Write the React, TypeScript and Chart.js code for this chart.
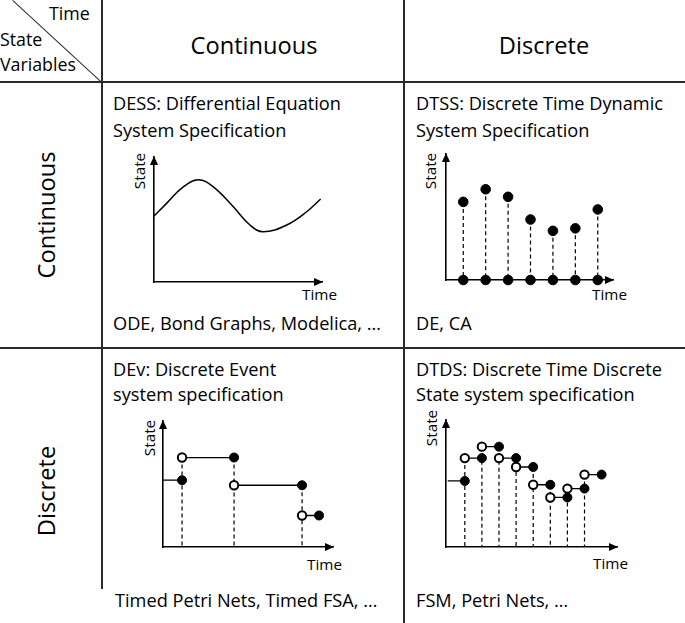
import React, { useEffect, useRef } from "react";
import { Chart, registerables } from "chart.js";
Chart.register(...registerables);

// ---------- DATA ----------
// DESS: continuous trajectory (time, state)
const dessTime = [0, 0.75, 1.74, 2.64, 3.53, 4.72, 5.71, 6.51, 7.9, 9.09, 9.92];
const dessState = [5.28, 6.29, 7.61, 8.18, 7.61, 6.02, 4.56, 4.02, 4.56, 5.62, 6.64];

// DTSS: sampled states at discrete time steps
const dtssTime = [1, 2, 3, 4, 5, 6, 7];
const dtssState = [6.2, 7.2, 6.6, 4.8, 3.9, 4.1, 5.6];

// DEv: event times and piecewise-constant state levels
const devEventTimes = [1.12, 4.18, 8.18];
const devLevels = [5.3, 7.1, 4.9, 2.5];
const devEndTime = 9.18;

// DTDS: discrete time steps with discrete state levels
const dtdsEventTimes = [1, 2, 3, 4, 5, 6, 7, 8];
const dtdsLevels = [5.2, 7.0, 7.9, 7.0, 6.3, 4.9, 3.9, 4.6, 5.7];
const dtdsEndTime = 9;

// Text
const colHeaders = ["Continuous", "Discrete"];
const rowHeaders = ["Continuous", "Discrete"];
const cornerTime = "Time";
const cornerState = ["State", "Variables"];
const cellTitles = [
  ["DESS: Differential Equation", "System Specification"],
  ["DTSS: Discrete Time Dynamic", "System Specification"],
  ["DEv: Discrete Event", "system specification"],
  ["DTDS: Discrete Time Discrete", "State system specification"],
];
const cellExamples = [
  "ODE, Bond Graphs, Modelica, …",
  "DE, CA",
  "Timed Petri Nets, Timed FSA, …",
  "FSM, Petri Nets, …",
];
const axisX = "Time";
const axisY = "State";

// ---------- HELPERS ----------
const FONT = "'Open Sans', 'Noto Sans', sans-serif";
const INK = "#000";

let measureCtx: CanvasRenderingContext2D | null = null;
function fitSize(text: string, target: number) {
  if (!measureCtx) measureCtx = document.createElement("canvas").getContext("2d");
  const ctx = measureCtx as CanvasRenderingContext2D;
  ctx.font = `100px ${FONT}`;
  const w = ctx.measureText(text).width || 1;
  return (target / w) * 100;
}

function stemData(times: number[], tops: number[]) {
  const out: any[] = [];
  times.forEach((t, i) => {
    out.push({ x: t, y: tops[i] }, { x: t, y: 0 }, { x: t, y: null });
  });
  return out;
}

function stepDatasets(events: number[], levels: number[], endTime: number, startTime: number) {
  const starts = [startTime, ...events];
  const ends = [...events, endTime];
  const segs: any[] = [];
  starts.forEach((s, k) => {
    segs.push({ x: s, y: levels[k] }, { x: ends[k], y: levels[k] }, { x: ends[k], y: null });
  });
  const stemTops = events.map((_, i) => Math.max(levels[i], levels[i + 1]));
  const filled = ends.map((e, k) => ({ x: e, y: levels[k] }));
  const open = events.map((e, i) => ({ x: e, y: levels[i + 1] }));
  return [
    openDots(open, 0),
    filledDots(filled, 1),
    solidLine(segs, 2, 1.3),
    dashedLine(stemData(events, stemTops), 3),
  ];
}

function solidLine(data: any[], order: number, width = 1.5, tension = 0) {
  return {
    data, order, borderColor: INK, borderWidth: width, pointRadius: 0,
    tension, clip: false, spanGaps: false, fill: false,
  };
}
function dashedLine(data: any[], order: number) {
  return {
    data, order, borderColor: INK, borderWidth: 1.2, borderDash: [4, 3],
    pointRadius: 0, clip: false, spanGaps: false, fill: false,
  };
}
function filledDots(data: any[], order: number, r = 4.5) {
  return {
    data, order, showLine: false, pointRadius: r, pointBackgroundColor: INK,
    pointBorderColor: INK, pointBorderWidth: 1, clip: false,
  };
}
function openDots(data: any[], order: number, r = 4.2) {
  return {
    data, order, showLine: false, pointRadius: r, pointBackgroundColor: "#fff",
    pointBorderColor: INK, pointBorderWidth: 2, clip: false,
  };
}

const arrowPlugin = {
  id: "axisArrows",
  afterDraw(chart: any) {
    const { ctx, chartArea } = chart;
    const { left, right, top, bottom } = chartArea;
    ctx.save();
    ctx.fillStyle = INK;
    ctx.beginPath();
    ctx.moveTo(left, top - 1);
    ctx.lineTo(left - 4, top + 8);
    ctx.lineTo(left + 4, top + 8);
    ctx.closePath();
    ctx.fill();
    ctx.beginPath();
    ctx.moveTo(right + 1, bottom);
    ctx.lineTo(right - 8, bottom - 4);
    ctx.lineTo(right - 8, bottom + 4);
    ctx.closePath();
    ctx.fill();
    ctx.restore();
  },
};

type Box = { x0: number; x1: number; yT: number; yB: number };
const PAD = 12;

function MiniPlot({ box, xMin, xMax, datasets }: { box: Box; xMin: number; xMax: number; datasets: any[] }) {
  const ref = useRef<HTMLCanvasElement>(null);
  const w = box.x1 - box.x0 + 2 * PAD;
  const h = box.yB - box.yT + 2 * PAD;
  useEffect(() => {
    const axis = (min: number, max: number) => ({
      type: "linear", min, max, display: true,
      grid: { display: false, drawTicks: false },
      ticks: { display: false },
      border: { display: true, color: INK, width: 1.6 },
      title: { display: false },
    });
    const chart = new Chart(ref.current as HTMLCanvasElement, {
      type: "line",
      data: { datasets },
      options: {
        responsive: false,
        animation: false,
        events: [],
        layout: { padding: PAD, autoPadding: false },
        plugins: { legend: { display: false }, tooltip: { enabled: false } },
        scales: { x: axis(xMin, xMax), y: axis(0, 10) },
      } as any,
      plugins: [arrowPlugin],
    });
    return () => chart.destroy();
  }, []);
  return (
    <canvas
      ref={ref}
      width={w}
      height={h}
      style={{ position: "absolute", left: box.x0 - PAD, top: box.yT - PAD, width: w, height: h }}
    />
  );
}

function Txt({ x, y, size, children, rotate = false, center = false }: any) {
  const style: any = {
    position: "absolute",
    left: x,
    top: y,
    fontSize: size,
    lineHeight: "1",
    whiteSpace: "nowrap",
    color: "#000",
    fontFamily: FONT,
  };
  if (rotate) style.transform = "translate(-50%, -50%) rotate(-90deg)";
  else if (center) style.transform = "translate(-50%, -50%)";
  else style.transform = "translate(0, -50%)";
  return <div style={style}>{children}</div>;
}

function Rule({ x, y, w, h }: any) {
  return <div style={{ position: "absolute", left: x, top: y, width: w, height: h, background: "#2a2a2a" }} />;
}

export default function App() {
  const dessSeries = dessTime.map((t, i) => ({ x: t, y: dessState[i] }));
  const dtssTop = dtssTime.map((t, i) => ({ x: t, y: dtssState[i] }));
  const dtssBase = dtssTime.map((t) => ({ x: t, y: 0 }));

  const diagLen = Math.hypot(89, 82);
  const diagAng = (Math.atan2(82, 89) * 180) / Math.PI;

  const cellSize = fitSize(cellTitles[0][0], 228);
  const headSize = fitSize(colHeaders[0], 127);
  const cornerSize = fitSize(cornerState[1], 76);
  const axisSize = fitSize(axisX, 35);

  return (
    <div style={{ position: "absolute", left: 0, top: 0, width: 685, height: 623, background: "#fff", overflow: "hidden" }}>
      {/* grid rules */}
      <Rule x={0} y={81} w={685} h={1.6} />
      <Rule x={0} y={347} w={685} h={1.6} />
      <Rule x={101} y={0} w={1.6} h={589} />
      <Rule x={403} y={0} w={1.6} h={623} />
      <div
        style={{
          position: "absolute", left: 13, top: 0, width: diagLen, height: 1.4, background: "#2a2a2a",
          transformOrigin: "0 0", transform: `rotate(${diagAng}deg)`,
        }}
      />

      {/* corner */}
      <Txt x={49} y={14} size={cornerSize}>{cornerTime}</Txt>
      <Txt x={0} y={40} size={cornerSize}>{cornerState[0]}</Txt>
      <Txt x={0} y={65} size={cornerSize}>{cornerState[1]}</Txt>

      {/* headers */}
      <Txt x={254} y={46} size={headSize} center>{colHeaders[0]}</Txt>
      <Txt x={544} y={46} size={headSize} center>{colHeaders[1]}</Txt>
      <Txt x={47} y={215} size={headSize} rotate>{rowHeaders[0]}</Txt>
      <Txt x={47} y={491} size={headSize} rotate>{rowHeaders[1]}</Txt>

      {/* cell texts */}
      <Txt x={113} y={103} size={cellSize}>{cellTitles[0][0]}</Txt>
      <Txt x={113} y={130} size={cellSize}>{cellTitles[0][1]}</Txt>
      <Txt x={416} y={103} size={cellSize}>{cellTitles[1][0]}</Txt>
      <Txt x={416} y={130} size={cellSize}>{cellTitles[1][1]}</Txt>
      <Txt x={113} y={369} size={cellSize}>{cellTitles[2][0]}</Txt>
      <Txt x={113} y={394} size={cellSize}>{cellTitles[2][1]}</Txt>
      <Txt x={416} y={369} size={cellSize}>{cellTitles[3][0]}</Txt>
      <Txt x={416} y={394} size={cellSize}>{cellTitles[3][1]}</Txt>
      <Txt x={113} y={323} size={cellSize}>{cellExamples[0]}</Txt>
      <Txt x={416} y={323} size={cellSize}>{cellExamples[1]}</Txt>
      <Txt x={115} y={600} size={cellSize}>{cellExamples[2]}</Txt>
      <Txt x={416} y={600} size={cellSize}>{cellExamples[3]}</Txt>

      {/* axis labels */}
      <Txt x={140} y={171} size={axisSize} rotate>{axisY}</Txt>
      <Txt x={302} y={295} size={axisSize}>{axisX}</Txt>
      <Txt x={431} y={171} size={axisSize} rotate>{axisY}</Txt>
      <Txt x={592} y={295} size={axisSize}>{axisX}</Txt>
      <Txt x={150} y={438} size={axisSize} rotate>{axisY}</Txt>
      <Txt x={307} y={565} size={axisSize}>{axisX}</Txt>
      <Txt x={432} y={428} size={axisSize} rotate>{axisY}</Txt>
      <Txt x={593} y={564} size={axisSize}>{axisX}</Txt>

      {/* plots */}
      <MiniPlot
        box={{ x0: 154, x1: 322, yT: 157, yB: 282 }}
        xMin={0}
        xMax={10}
        datasets={[solidLine(dessSeries, 0, 1.5, 0.4)]}
      />
      <MiniPlot
        box={{ x0: 446, x1: 613, yT: 154, yB: 280 }}
        xMin={0.23}
        xMax={7.68}
        datasets={[
          filledDots(dtssTop, 0, 4.8),
          filledDots(dtssBase, 1, 4.8),
          dashedLine(stemData(dtssTime, dtssState), 2),
        ]}
      />
      <MiniPlot
        box={{ x0: 163, x1: 333, yT: 421, yB: 547 }}
        xMin={0}
        xMax={10}
        datasets={stepDatasets(devEventTimes, devLevels, devEndTime, 0)}
      />
      <MiniPlot
        box={{ x0: 446, x1: 617, yT: 420, yB: 547 }}
        xMin={-0.1}
        xMax={9.9}
        datasets={stepDatasets(dtdsEventTimes, dtdsLevels, dtdsEndTime, 0)}
      />
    </div>
  );
}
